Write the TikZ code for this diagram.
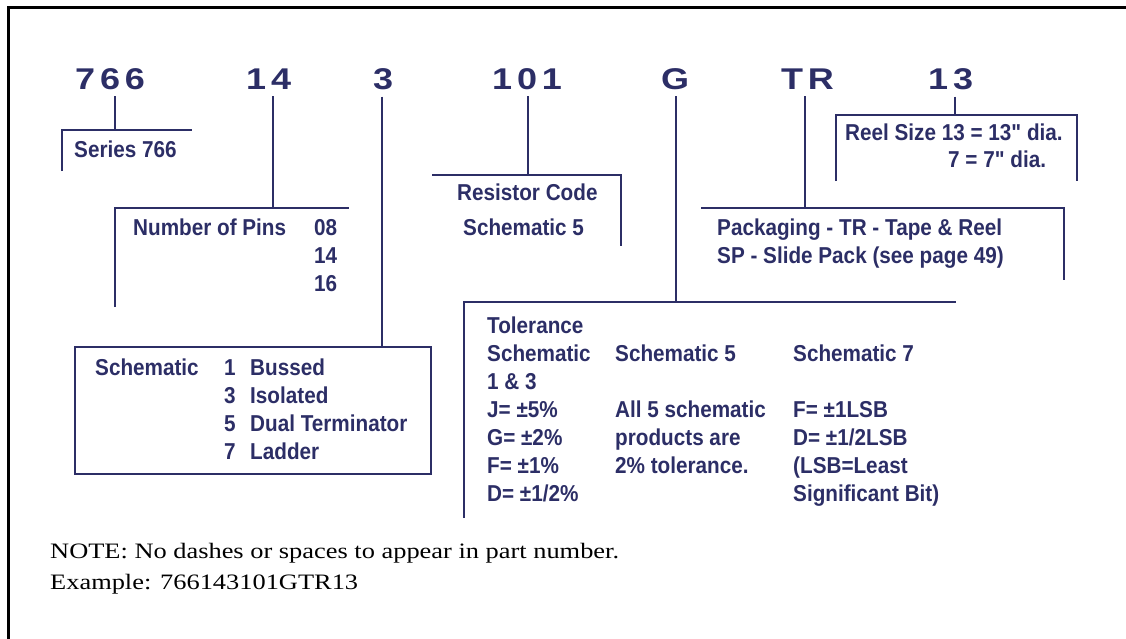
\documentclass[tikz,border=0pt]{standalone}
\usepackage{fontspec}
\usepackage{tikz}
\usetikzlibrary{positioning}

\newfontfamily\partfont[FakeStretch=1.2,LetterSpace=16]{Liberation Sans}
\newfontfamily\legendfont[FakeStretch=0.9]{Liberation Sans}
\newfontfamily\remarkfont[FakeStretch=1.2]{Liberation Serif}
\definecolor{navy}{RGB}{44,46,102}

\tikzset{
	partno/.style={font=\partfont\bfseries\fontsize{30}{30}\selectfont, text=navy, anchor=base west, inner xsep=0pt, inner ysep=7pt},
	legend/.style={font=\legendfont\bfseries\fontsize{23}{28}\selectfont, text=navy, anchor=base west, inner sep=0pt, align=left},
	remark/.style={font=\remarkfont\fontsize{22}{31}\selectfont, anchor=base west, inner sep=0pt, align=left},
	stem/.style={draw=navy, line width=2.6pt},
	bracket/.style={draw=navy, line width=1.5pt},
	frame/.style={draw=black, line width=3pt}
}

\begin{document}
\begin{tikzpicture}[x=1pt, y=-1pt]
	\useasboundingbox (0,0) rectangle (1126,638);
	\draw[frame] (8.5,640) -- (8.5,7) -- (1130,7);
	
	\node[partno] (c766) at (75,89) {766};
	\node[partno] (c14) at (246,89) {14};
	\node[partno] (c3) at (373,89) {3};
	\node[partno] (c101) at (492,89) {101};
	\node[partno] (cG) at (661,89) {G};
	\node[partno] (cTR) at (781,89) {TR};
	\node[partno] (c13) at (928,89) {13};
	
	\coordinate (serJ) at (115,130);
	\coordinate (serL) at (62,171);
	\coordinate (serR) at (192,130);
	\coordinate (pinJ) at (273,208);
	\coordinate (pinL) at (115,307);
	\coordinate (pinR) at (349,208);
	\coordinate (schJ) at (382,347);
	\coordinate (schA) at (75,347);
	\coordinate (schB) at (431,474);
	\coordinate (resJ) at (528,175);
	\coordinate (resL) at (432,175);
	\coordinate (resR) at (621,246);
	\coordinate (tolJ) at (676,302);
	\coordinate (tolL) at (464,518);
	\coordinate (tolR) at (956,302);
	\coordinate (pakJ) at (805,208);
	\coordinate (pakL) at (701,208);
	\coordinate (pakR) at (1064,280);
	\coordinate (reelJ) at (955,115);
	\coordinate (reelL) at (836,181);
	\coordinate (reelR) at (1077,181);
	
	\draw[stem] (c766.south -| serJ) -- (serJ);
	\draw[stem] (c14.south -| pinJ) -- (pinJ);
	\draw[bracket] (c3.south -| schJ) -- (schJ);
	\draw[stem] (c101.south -| resJ) -- (resJ);
	\draw[stem] (cG.south -| tolJ) -- (tolJ);
	\draw[stem] (cTR.south -| pakJ) -- (pakJ);
	\draw[bracket] (c13.south -| reelJ) -- (reelJ);
	
	\draw[bracket] (serL) |- (serR);
	\draw[bracket] (pinL) |- (pinR);
	\draw[bracket] (schA) rectangle (schB);
	\draw[bracket] (resL) -| (resR);
	\draw[bracket] (tolL) |- (tolR);
	\draw[bracket] (pakL) -| (pakR);
	\draw[bracket] (reelL) |- (reelJ) -| (reelR);
	
	\node[legend] (series) at (74,157) {Series 766};
	\node[legend] (pins) at (133,235) {Number of Pins};
	\node[legend] (pinval) at (314,291) {08\\14\\16};
	\node[legend] (schname) at (95,375) {Schematic};
	\node[legend] (schnum) at (224,459) {1\\3\\5\\7};
	\node[legend] (schtype) at (250,459) {Bussed\\Isolated\\Dual Terminator\\Ladder};
	\node[legend] (rescode) at (457,200) {Resistor Code};
	\node[legend] (ressch) at (463,235) {Schematic 5};
	\node[legend] (pack) at (717,263) {Packaging - TR - Tape \& Reel\\SP - Slide Pack (see page 49)};
	\node[legend] (reel1) at (845,140) {Reel Size 13 = 13" dia.};
	\node[legend] (reel2) at (948,167) {7 = 7" dia.};
	\node[legend] (tol1) at (487,501) {Tolerance\\Schematic\\1 \& 3\\J= ±5\%\\G= ±2\%\\F= ±1\%\\D= ±1/2\%};
	\node[legend] (tol5) at (615,473) {Schematic 5\\[28pt]All 5 schematic\\products are\\2\% tolerance.};
	\node[legend] (tol7) at (793,501) {Schematic 7\\[28pt]F= ±1LSB\\D= ±1/2LSB\\(LSB=Least\\Significant Bit)};
	
	\node[remark] (note) at (50,589) {NOTE: No dashes or spaces to appear in part number.\\Example: 766143101GTR13};
\end{tikzpicture}
\end{document}
